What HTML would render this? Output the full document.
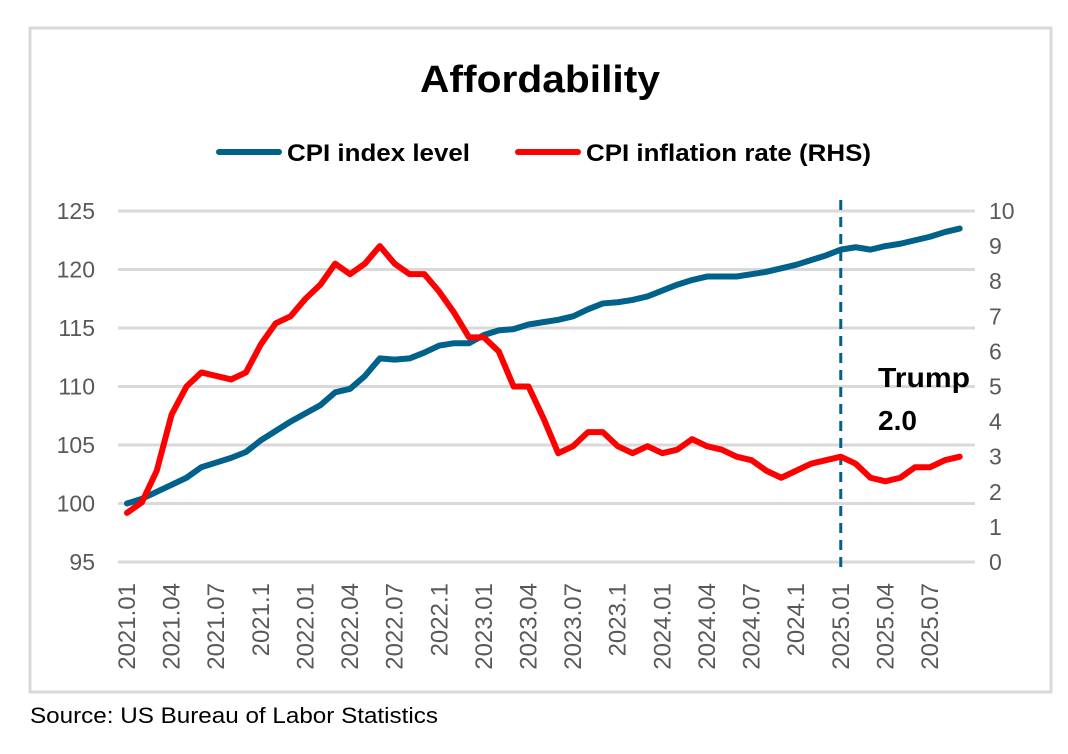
<!DOCTYPE html>
<html><head><meta charset="utf-8"><style>
html,body{margin:0;padding:0;background:#fff;width:1068px;height:754px;overflow:hidden}
svg text{font-family:"Liberation Sans",Arial,sans-serif}
</style></head><body>
<svg id="chart" width="1068" height="754" viewBox="0 0 1068 754">
<rect x="30" y="28" width="1021" height="664" fill="#fff" stroke="#d9d9d9" stroke-width="3"/>
<text x="540" y="92" text-anchor="middle" font-size="38" font-weight="bold" fill="#000" textLength="240" lengthAdjust="spacingAndGlyphs">Affordability</text>
<g>
<g>
<line x1="219" y1="152" x2="279" y2="152" stroke="#00628a" stroke-width="6" stroke-linecap="round"/>
<text x="287" y="161" font-size="24" font-weight="bold" fill="#000" textLength="183" lengthAdjust="spacingAndGlyphs">CPI index level</text></g>
<g>
<line x1="518" y1="152" x2="578" y2="152" stroke="#ff0000" stroke-width="6" stroke-linecap="round"/>
<text x="586" y="161" font-size="24" font-weight="bold" fill="#000" textLength="285" lengthAdjust="spacingAndGlyphs">CPI inflation rate (RHS)</text></g>
</g>
<g id="grid"></g><g id="axes"></g><g id="series"></g>
<text x="878" y="387" font-size="28" font-weight="bold" fill="#000" textLength="92" lengthAdjust="spacingAndGlyphs">Trump</text>
<text x="878" y="430" font-size="28" font-weight="bold" fill="#000">2.0</text>
<text x="30" y="723" font-size="22" fill="#000" textLength="408" lengthAdjust="spacingAndGlyphs">Source: US Bureau of Labor Statistics</text>
</svg>
<script>
const cpiIndex=[100.0,100.4,101.0,101.6,102.2,103.1,103.5,103.9,104.4,105.4,106.2,107.0,107.7,108.4,109.5,109.8,110.9,112.4,112.3,112.4,112.9,113.5,113.7,113.7,114.4,114.8,114.9,115.3,115.5,115.7,116.0,116.6,117.1,117.2,117.4,117.7,118.2,118.7,119.1,119.4,119.4,119.4,119.6,119.8,120.1,120.4,120.8,121.2,121.7,121.9,121.7,122.0,122.2,122.5,122.8,123.2,123.5];
const inflationRate=[1.4,1.7,2.6,4.2,5.0,5.4,5.3,5.2,5.4,6.2,6.8,7.0,7.5,7.9,8.5,8.2,8.5,9.0,8.5,8.2,8.2,7.7,7.1,6.4,6.4,6.0,5.0,5.0,4.1,3.1,3.3,3.7,3.7,3.3,3.1,3.3,3.1,3.2,3.5,3.3,3.2,3.0,2.9,2.6,2.4,2.6,2.8,2.9,3.0,2.8,2.4,2.3,2.4,2.7,2.7,2.9,3.0];
const leftTicks=[95,100,105,110,115,120,125];
const rightTicks=[0,1,2,3,4,5,6,7,8,9,10];
const xLabels=["2021.01","2021.04","2021.07","2021.1","2022.01","2022.04","2022.07","2022.1","2023.01","2023.04","2023.07","2023.1","2024.01","2024.04","2024.07","2024.1","2025.01","2025.04","2025.07"];
const markerIndex=48;
const NS="http://www.w3.org/2000/svg";
const x=i=>127+i*14.87;
const yL=v=>562-(v-95)*(351/30);
const yR=v=>562-v*35.1;
function mk(t,a,p){const e=document.createElementNS(NS,t);for(const k in a)e.setAttribute(k,a[k]);p.appendChild(e);return e;}
const grid=document.getElementById('grid'),axes=document.getElementById('axes'),series=document.getElementById('series');
leftTicks.forEach(v=>{
 const l=mk('line',{x1:118,x2:975,y1:yL(v),y2:yL(v),stroke:'#d9d9d9','stroke-width':3},grid);
 
 
 const t=mk('text',{x:95,y:yL(v)+8,'text-anchor':'end','font-size':23,fill:'#595959'},axes);
 t.textContent=v;
 
 
});
rightTicks.forEach(v=>{
 const t=mk('text',{x:989,y:yR(v)+8,'font-size':23,fill:'#595959'},axes);
 t.textContent=v;
 
 
});
xLabels.forEach((s,k)=>{
 const xx=x(k*3)+8,yy=583;
 const t=mk('text',{x:xx,y:yy,'text-anchor':'end','font-size':24,fill:'#595959',transform:`rotate(-90 ${xx} ${yy})`},axes);
 t.textContent=s;
 
 
});
const dl=mk('line',{x1:x(markerIndex),x2:x(markerIndex),y1:200,y2:568,stroke:'#00628a','stroke-width':3,'stroke-dasharray':'10,7'},series);


const pb=mk('polyline',{points:cpiIndex.map((v,i)=>x(i)+','+yL(v)).join(' '),fill:'none',stroke:'#00628a','stroke-width':6,'stroke-linejoin':'round','stroke-linecap':'round'},series);


const pr=mk('polyline',{points:inflationRate.map((v,i)=>x(i)+','+yR(v)).join(' '),fill:'none',stroke:'#ff0000','stroke-width':6,'stroke-linejoin':'round','stroke-linecap':'round'},series);


</script>
</body></html>
